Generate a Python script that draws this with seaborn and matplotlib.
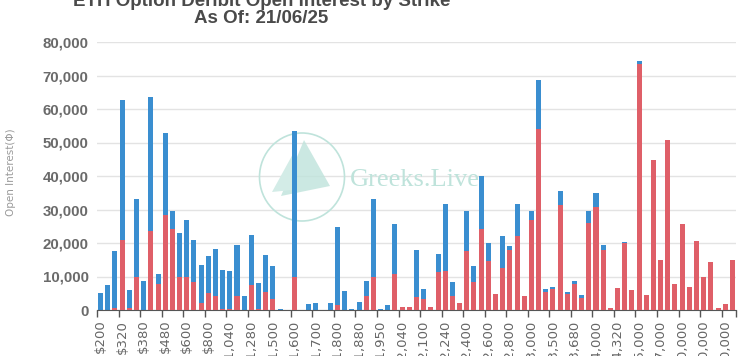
import numpy as np
import pandas as pd
import matplotlib
matplotlib.use("Agg")
import matplotlib.pyplot as plt
import seaborn as sns
from matplotlib.patches import Ellipse, Polygon

# strikes (only every third one is labelled on the axis)
strikes = [200, 240, 280, 320, 340, 360, 380, 400, 440, 480, 520, 560, 600, 640, 700,
           800, 880, 960, 1040, 1120, 1200, 1280, 1360, 1400, 1500, 1520, 1560, 1600,
           1640, 1660, 1700, 1720, 1760, 1800, 1820, 1840, 1880, 1900, 1920, 1950, 1960,
           2000, 2040, 2050, 2080, 2100, 2120, 2150, 2240, 2250, 2300, 2400, 2450, 2500,
           2600, 2650, 2700, 2800, 2900, 2950, 3000, 3200, 3300, 3500, 3600, 3650, 3680,
           3700, 3800, 4000, 4200, 4300, 4320, 4500, 4800, 5000, 5500, 6000, 7000, 8000,
           9000, 10000, 12000, 15000, 20000, 25000, 28000, 30000, 35000]

# call open interest (red, bottom)
calls = [100, 100, 500, 20800, 500, 10000, 100, 23700, 7800, 28300, 24300, 9900, 9900,
         8300, 2200, 5000, 4200, 400, 400, 4300, 100, 7500, 300, 5300, 3400, 0, 0, 10000,
         0, 0, 0, 0, 0, 1400, 0, 0, 0, 4200, 10000, 0, 0, 10700, 1000, 900, 4000, 3200,
         1000, 11200, 11600, 4200, 2200, 17700, 8300, 24300, 14600, 4700, 12600, 17800,
         22200, 4200, 26800, 54000, 5500, 6300, 31300, 4700, 7700, 3700, 26000, 30800,
         18000, 500, 6600, 20000, 6000, 73500, 4400, 44700, 15000, 50700, 7800, 25700,
         7000, 20500, 9800, 14400, 500, 1800, 15000]

# put open interest (blue, stacked on top)
puts = [4900, 7400, 17200, 41900, 5500, 23200, 8700, 39800, 2900, 24400, 5400, 13000,
        17100, 12500, 11100, 11200, 14100, 11600, 11100, 15100, 4100, 14900, 7900, 11100,
        9800, 400, 0, 43500, 0, 1800, 2200, 0, 2200, 23500, 5800, 200, 2400, 4600, 23200,
        400, 1600, 15100, 0, 0, 14000, 3000, 0, 5600, 19900, 4200, 0, 12000, 4700, 15600,
        5300, 0, 9400, 1300, 9300, 0, 2900, 14700, 800, 700, 4300, 800, 1100, 900, 3500,
        4200, 1500, 0, 0, 400, 0, 800, 0, 0, 0, 0, 0, 0, 0, 0, 0, 0, 0, 0, 0]

df = pd.DataFrame({
    "strike": [f"${s:,}" for s in strikes],
    "calls": calls,
    "puts": puts,
})
df["total"] = df["calls"] + df["puts"]

W, H = 747, 356
fig = plt.figure(figsize=(W / 100, H / 100), dpi=100)
ax = fig.add_axes([97 / W, 1 - 310 / H, (736 - 97) / W, (310 - 42) / H])

sans = ["Liberation Sans", "DejaVu Sans"]

def fxy(x, y):
    return (x / W, 1 - y / H)

# watermark
wm = "#bfe3db"
ax.add_patch(Ellipse(fxy(302, 177), 85 / W, 88 / H, transform=fig.transFigure,
                     fill=False, edgecolor=wm, linewidth=1.2, zorder=0.6))
ax.add_patch(Polygon([fxy(304, 140), fxy(330, 186), fxy(281, 196)], closed=True,
                     transform=fig.transFigure, facecolor=wm, edgecolor="none",
                     alpha=0.8, zorder=0.6))
ax.add_patch(Polygon([fxy(294, 152), fxy(272, 192), fxy(292, 190)], closed=True,
                     transform=fig.transFigure, facecolor="#d3ece7", edgecolor="none",
                     zorder=0.6))
ax.text(*fxy(350, 180), "Greeks.Live", transform=fig.transFigure, fontsize=19,
        family="Liberation Serif", color=wm, va="center", ha="left", zorder=0.6)

# stacked bars: total in blue, calls in red over it
sns.barplot(data=df, x="strike", y="total", color="#3a8ed0", saturation=1,
            width=0.7, linewidth=0, ax=ax, zorder=2)
sns.barplot(data=df, x="strike", y="calls", color="#df5f68", saturation=1,
            width=0.7, linewidth=0, ax=ax, zorder=3)

ax.set_xlim(-0.5, len(df) - 0.5)
ax.set_ylim(0, 80000)
ax.set_yticks(range(0, 80001, 10000))
ax.set_yticklabels([f"{v:,}" for v in range(0, 80001, 10000)],
                   family=sans, fontweight="bold", fontsize=10.8, color="#6a6a6a")
ax.grid(axis="y", color="#e3e3e3", linewidth=1)
ax.set_axisbelow(True)
ax.tick_params(axis="y", length=0, pad=6)

pos = list(range(0, len(df), 3))
ax.set_xticks(pos)
ax.set_xticklabels([df["strike"][i] for i in pos], rotation=90, fontsize=9.5,
                   color="#666666", va="top", ha="center")
ax.tick_params(axis="x", which="major", length=0, pad=7)
ax.set_xticks([p - 0.5 for p in pos] + [len(df) - 0.5], minor=True)
ax.tick_params(axis="x", which="minor", length=5, color="#555555", width=1)

for side in ["top", "right", "left"]:
    ax.spines[side].set_visible(False)
ax.spines["bottom"].set_color("#555555")
ax.set_xlabel("")
ax.set_ylabel("")

fig.text(11 / W, 1 - 172 / H, "Open Interest(Φ)", rotation=90, fontsize=7.5,
         color="#9a9a9a", ha="center", va="center")

fig.text(0.350, 1 - 27 / H, "ETH Option Deribit Open Interest by Strike\nAs Of: 21/06/25",
         ha="center", va="bottom", fontsize=13.5, fontweight="bold", color="#4a4a4a",
         family=sans, linespacing=1.0)

fig.savefig("out.png", dpi=100)
